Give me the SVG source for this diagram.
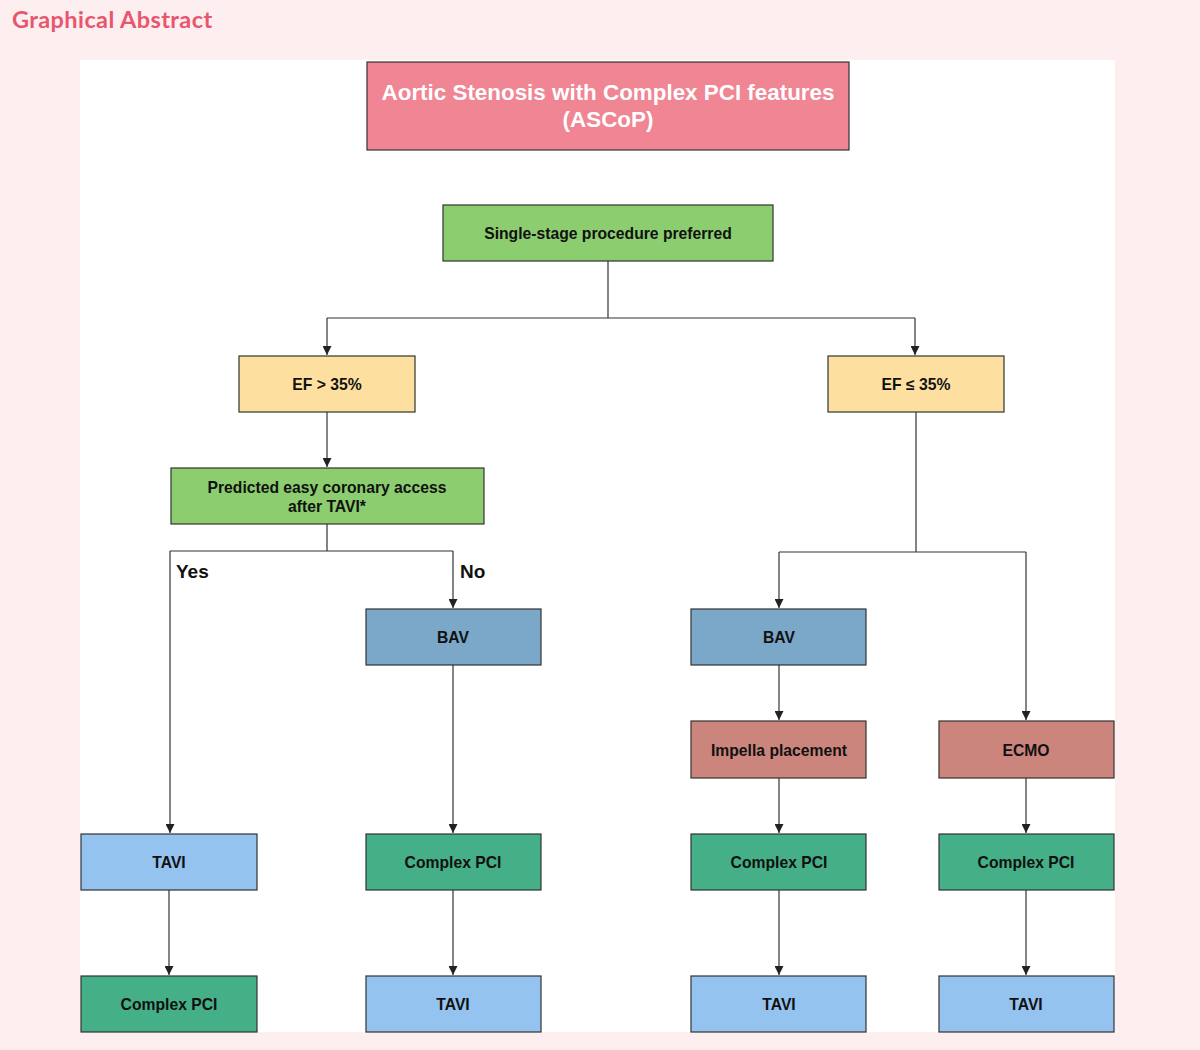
<svg xmlns="http://www.w3.org/2000/svg" width="1200" height="1050" viewBox="0 0 1200 1050">
<defs>
<marker id="arr" viewBox="0 0 10 10" refX="10" refY="5" markerWidth="10" markerHeight="9" markerUnits="userSpaceOnUse" orient="auto">
<path d="M0,0 L10,5 L0,10 z" fill="#222"/>
</marker>
<style>
.box{stroke:#333;stroke-width:1.2}
.t{font-family:"Liberation Sans",Arial,sans-serif;font-weight:bold;font-size:15.7px;fill:#111;text-anchor:middle}
.c{fill:none;stroke:#333;stroke-width:1.2}
.ca{fill:none;stroke:#333;stroke-width:1.2;marker-end:url(#arr)}
.lbl{font-family:"Liberation Sans",Arial,sans-serif;font-weight:bold;font-size:19px;fill:#111}
.pcl{fill:#45b087}.tav{fill:#95c3f0}.bav{fill:#7ba7c8}.red{fill:#cc857c}.ef{fill:#fde0a0}.grn{fill:#8ccd6f}
</style>
</defs>
<rect x="0" y="0" width="1200" height="1050" fill="#fdeef0"/>
<text x="12" y="28" font-family="Lato, 'Open Sans', sans-serif" font-weight="bold" font-size="23.5" letter-spacing="0.4" fill="#e8566e">Graphical Abstract</text>
<rect x="80" y="60" width="1035" height="972" fill="#ffffff"/>

<g id="connectors">
<path class="c" d="M608,261 V318"/>
<path class="c" d="M327,318 H915"/>
<path class="ca" d="M327,318 V355"/>
<path class="ca" d="M915,318 V355"/>
<path class="ca" d="M327,412 V467"/>
<path class="c" d="M327,524 V551 M170,551 H453"/>
<path class="ca" d="M170,551 V833"/>
<path class="ca" d="M453,551 V608"/>
<path class="c" d="M916,412 V552 M779,552 H1026"/>
<path class="ca" d="M779,552 V608"/>
<path class="ca" d="M1026,552 V720"/>
<path class="ca" d="M779,665 V720"/>
<path class="ca" d="M779,778 V833"/>
<path class="ca" d="M1026,778 V833"/>
<path class="ca" d="M453,665 V833"/>
<path class="ca" d="M169,890 V975"/>
<path class="ca" d="M453,890 V975"/>
<path class="ca" d="M779,890 V975"/>
<path class="ca" d="M1026,890 V975"/>
<text class="lbl" x="176" y="578">Yes</text>
<text class="lbl" x="460" y="578">No</text>
</g>

<g id="title">
<rect class="box" x="367" y="62" width="482" height="88" fill="#f08593"/>
<text class="t" x="608" y="100" style="fill:#fff;font-size:22.4px">Aortic Stenosis with Complex PCI features</text>
<text class="t" x="608" y="127" style="fill:#fff;font-size:22.4px">(ASCoP)</text>
</g>
<g id="single">
<rect class="box grn" x="443" y="205" width="330" height="56"/>
<text class="t" x="608" y="239">Single-stage procedure preferred</text>
</g>
<g id="ef_high">
<rect class="box ef" x="239" y="356" width="176" height="56"/>
<text class="t" x="327" y="390">EF &gt; 35%</text>
</g>
<g id="ef_low">
<rect class="box ef" x="828" y="356" width="176" height="56"/>
<text class="t" x="916" y="390">EF ≤ 35%</text>
</g>
<g id="predicted">
<rect class="box grn" x="171" y="468" width="313" height="56"/>
<text class="t" x="327" y="493">Predicted easy coronary access</text>
<text class="t" x="327" y="512">after TAVI*</text>
</g>
<g id="bav1">
<rect class="box bav" x="366" y="609" width="175" height="56"/>
<text class="t" x="453" y="643">BAV</text>
</g>
<g id="bav2">
<rect class="box bav" x="691" y="609" width="175" height="56"/>
<text class="t" x="779" y="643">BAV</text>
</g>
<g id="impella">
<rect class="box red" x="691" y="721" width="175" height="57"/>
<text class="t" x="779" y="756">Impella placement</text>
</g>
<g id="ecmo">
<rect class="box red" x="939" y="721" width="175" height="57"/>
<text class="t" x="1026" y="756">ECMO</text>
</g>
<g id="tavi1">
<rect class="box tav" x="81" y="834" width="176" height="56"/>
<text class="t" x="169" y="868">TAVI</text>
</g>
<g id="pci1">
<rect class="box pcl" x="366" y="834" width="175" height="56"/>
<text class="t" x="453" y="868">Complex PCI</text>
</g>
<g id="pci2">
<rect class="box pcl" x="691" y="834" width="175" height="56"/>
<text class="t" x="779" y="868">Complex PCI</text>
</g>
<g id="pci3">
<rect class="box pcl" x="939" y="834" width="175" height="56"/>
<text class="t" x="1026" y="868">Complex PCI</text>
</g>
<g id="pci4">
<rect class="box pcl" x="81" y="976" width="176" height="56"/>
<text class="t" x="169" y="1010">Complex PCI</text>
</g>
<g id="tavi2">
<rect class="box tav" x="366" y="976" width="175" height="56"/>
<text class="t" x="453" y="1010">TAVI</text>
</g>
<g id="tavi3">
<rect class="box tav" x="691" y="976" width="175" height="56"/>
<text class="t" x="779" y="1010">TAVI</text>
</g>
<g id="tavi4">
<rect class="box tav" x="939" y="976" width="175" height="56"/>
<text class="t" x="1026" y="1010">TAVI</text>
</g>
</svg>
